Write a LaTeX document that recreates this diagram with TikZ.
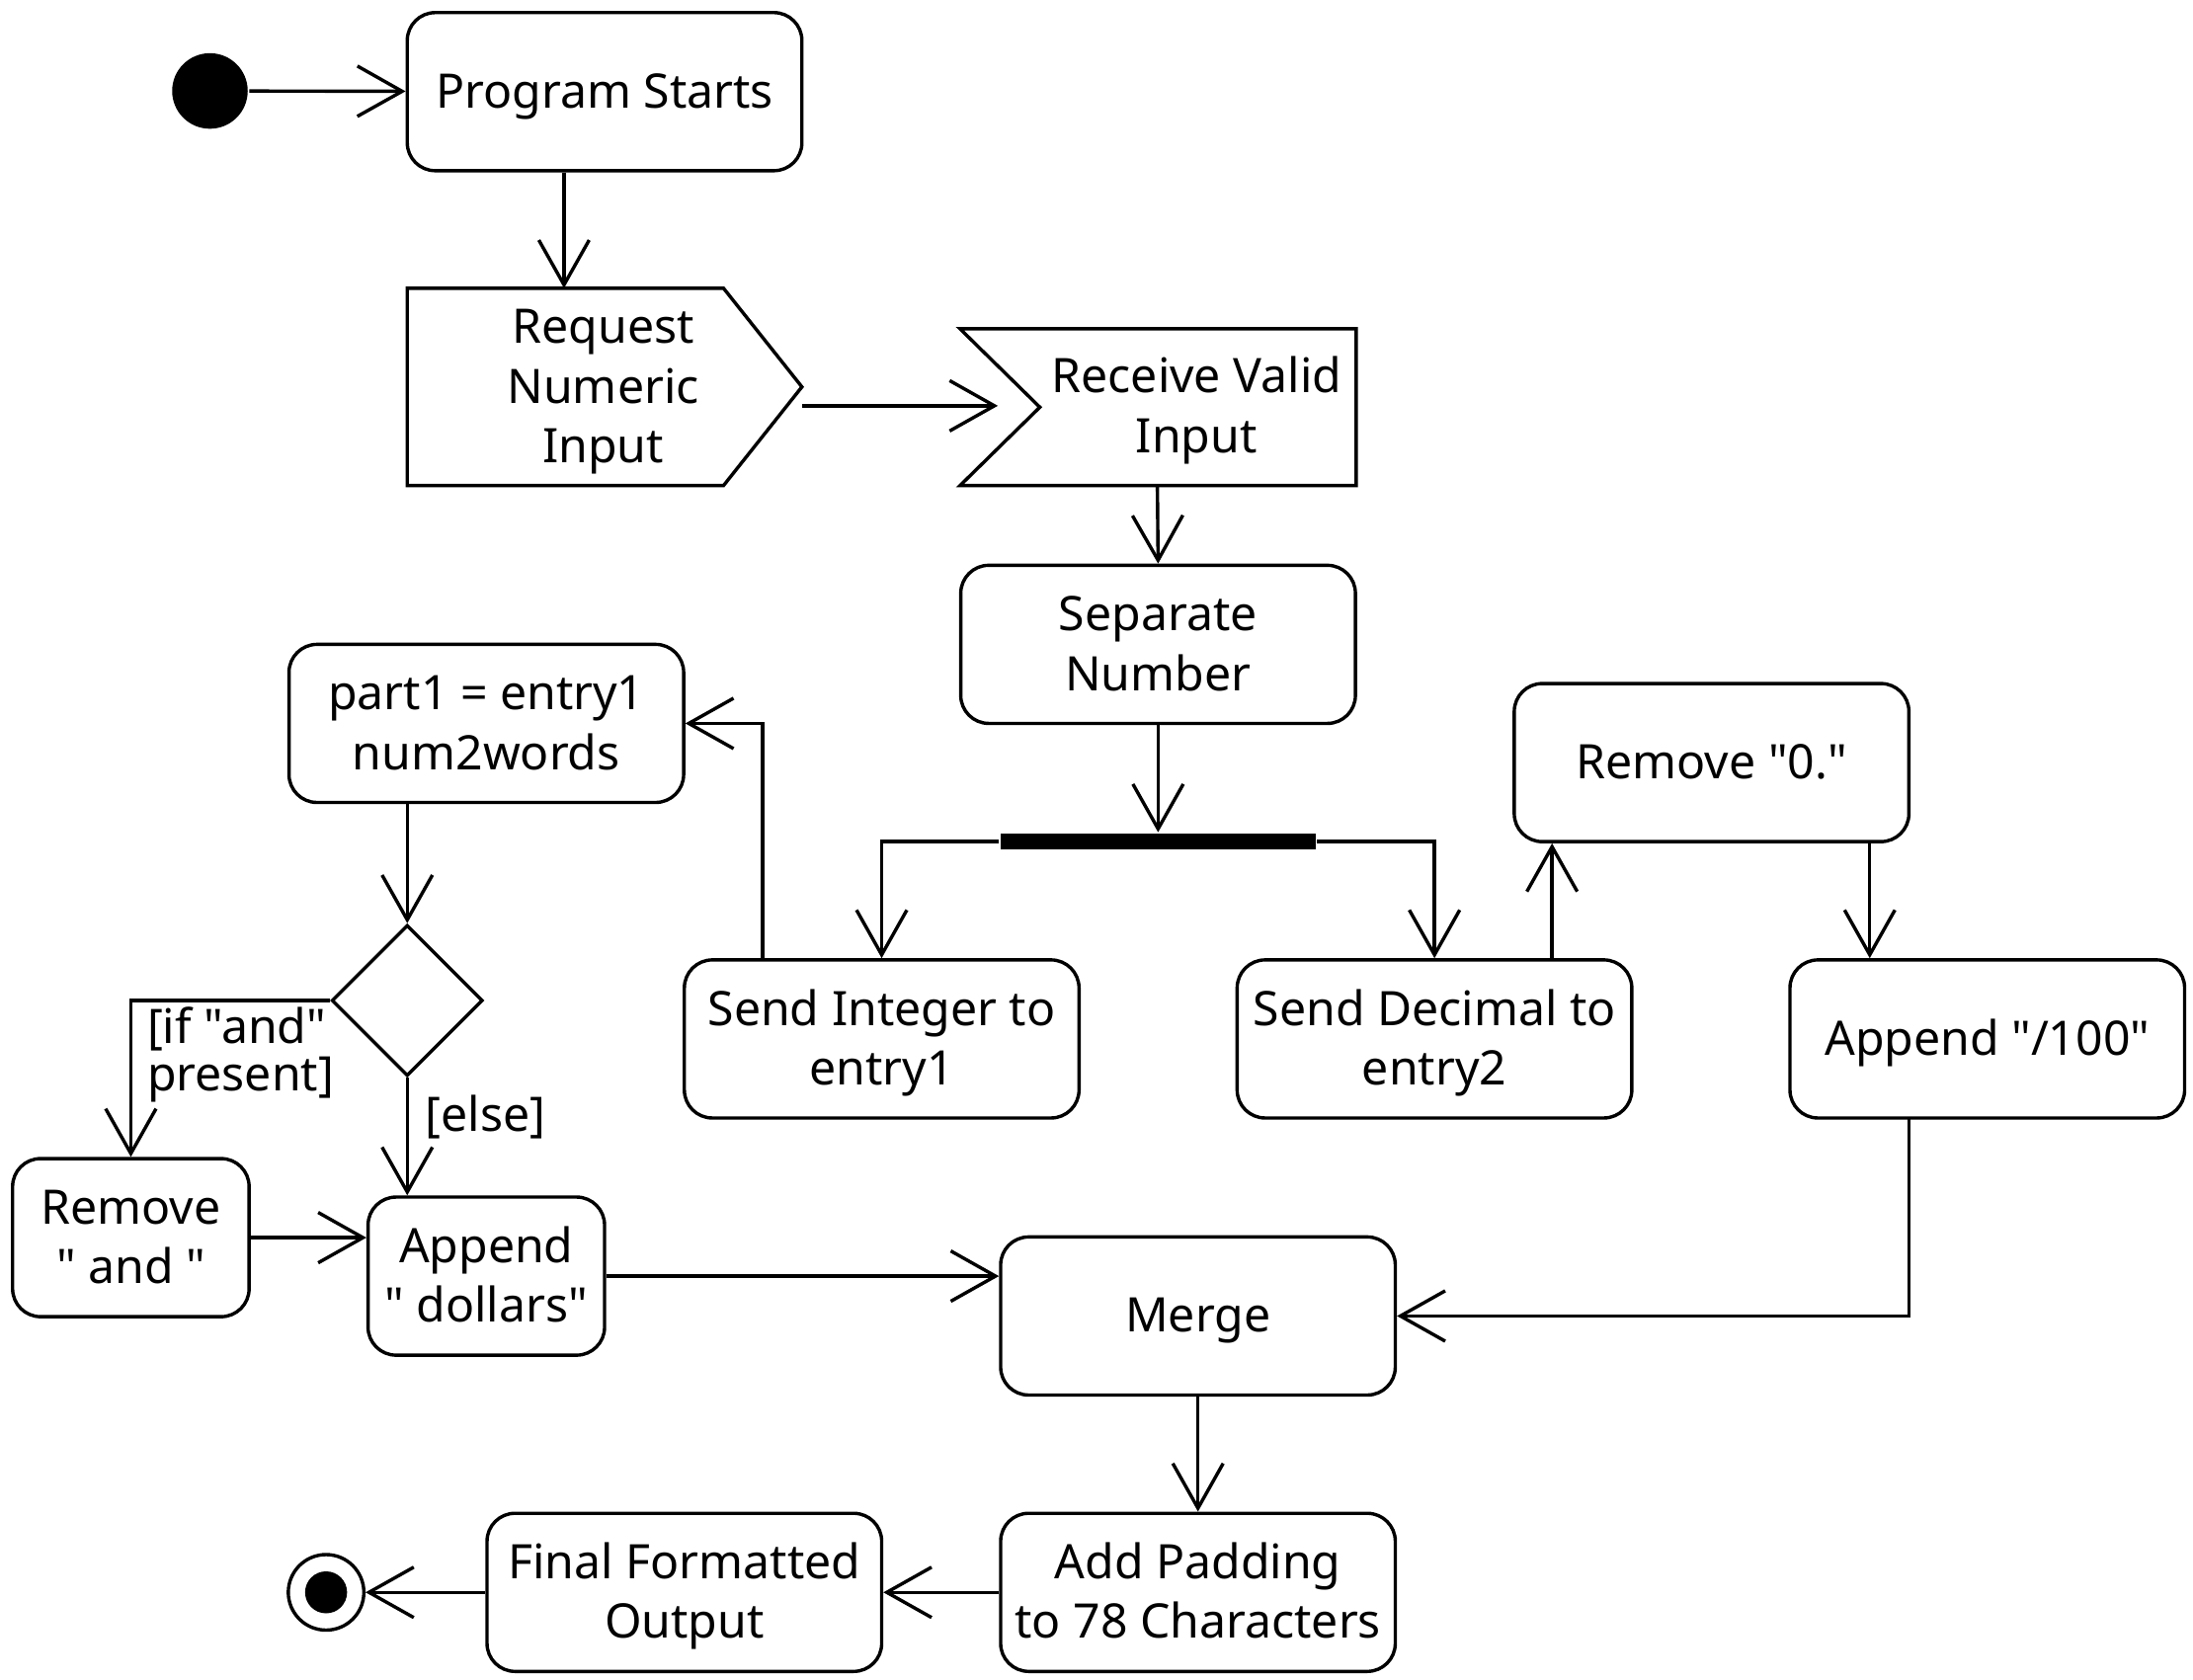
\documentclass[tikz,border=0pt]{standalone}
\usepackage{fontspec}
\setmainfont{Noto Sans}[Ligatures=TeXOff]
\usetikzlibrary{arrows.meta,shapes.geometric}
\newcommand\dfont{\fontsize{17}{21.3}\selectfont}
\newcommand\gfont{\fontsize{17}{17}\selectfont}
\newcommand\tA{\rule{0pt}{16.6pt}}
\newcommand\tD{\rule[-5pt]{0pt}{5pt}}
\begin{document}
\begin{tikzpicture}[x=0.5pt,y=-0.5pt, line width=1.2pt,
  box/.style={draw, rounded corners=10pt, minimum width=141pt, minimum height=56.5pt, inner sep=0pt, align=center, font=\dfont},
  sbox/.style={box, minimum width=84.5pt},
  txt/.style={inner sep=0pt, align=center, font=\dfont},
  flow/.style={-{Straight Barb[length=16pt,width=18pt]}}]
\useasboundingbox (0,0) rectangle (1567,1200);
% nodes
\node[circle, fill, minimum size=27pt, inner sep=0pt] (init) at (150,65) {};
\node[box] (ps) at (432,65.5) {\tA Program Starts\tD};
% send signal shape
\coordinate (rq1) at (291,206);
\coordinate (rq2) at (517,206);
\coordinate (rq3) at (573,276.5);
\coordinate (rq4) at (517,347);
\coordinate (rq5) at (291,347);
\draw (rq1) -- (rq2) -- (rq3) -- (rq4) -- (rq5) -- cycle;
\node[txt] (req) at (431,276.5) {\tA Request\\Numeric\\Input\tD};
\coordinate (reqIn) at (403,206);
\coordinate (reqOut) at (573,290);
% receive signal shape
\coordinate (rc1) at (686,235);
\coordinate (rc2) at (969,235);
\coordinate (rc3) at (969,347);
\coordinate (rc4) at (686,347);
\coordinate (rc5) at (743,291);
\draw (rc1) -- (rc2) -- (rc3) -- (rc4) -- (rc5) -- cycle;
\node[txt] (rcv) at (855,290.5) {\tA Receive Valid\\Input\tD};
\coordinate (rcvIn) at (713,290);
\coordinate (rcvOut) at (827,347);
\node[box] (sep) at (827.5,460.5) {\tA Separate\\Number\tD};
\node[fill, minimum width=112.5pt, minimum height=5.5pt, inner sep=0pt] (bar) at (827.5,601.5) {};
\node[box] (si) at (630,742.5) {\tA Send Integer to\\entry1\tD};
\node[box] (sd) at (1025,742.5) {\tA Send Decimal to\\entry2\tD};
\node[box] (rm0) at (1223,545) {\tA Remove "0."\tD};
\node[box] (ap100) at (1420,742.5) {\tA Append "/100"\tD};
\node[box] (p1) at (347.5,517) {\tA part1 = entry1\\num2words\tD};
\node[draw, diamond, minimum width=54pt, minimum height=54pt, inner sep=0pt] (dm) at (291,715) {};
\node[sbox] (rmand) at (93.5,884.5) {\tA Remove\\" and "\tD};
\node[sbox] (apd) at (347.5,912) {\tA Append\\" dollars"\tD};
\node[box] (mg) at (856,940.5) {\tA Merge\tD};
\node[box] (pad) at (856,1138) {\tA Add Padding\\to 78 Characters\tD};
\node[box] (fin) at (489,1138) {\tA Final Formatted\\Output\tD};
\node[circle, draw, minimum size=27pt, inner sep=0pt] (endn) at (233,1138) {};
\fill (endn.center) circle (7.5pt);
% labels
\node[txt, anchor=west, align=left, font=\gfont] (lif) at (104,754) {[if "and"\\present]};
\node[txt, anchor=west] (lelse) at (303,798) {[else]};
% helper coordinates
\coordinate (sdUp) at (1109,686);
\coordinate (rm0Out) at (1336,601);
\coordinate (apOut) at (1364,799);
\coordinate (siOut) at (545,686);
\coordinate (p1Out) at (291,573);
% connectors
\draw[flow] (init) -- (ps);
\draw[flow] (ps.south -| reqIn) -- (reqIn);
\draw[flow] (reqOut) -- (rcvIn);
\draw[flow] (rcvOut) -- (sep.north);
\draw[flow] (sep.south) -- (bar.north);
\draw[flow] (bar.west) -| (si.north);
\draw[flow] (bar.east) -| (sd.north);
\draw[flow] (sdUp) -- (sdUp |- rm0.south);
\draw[flow] (rm0Out) -- (rm0Out |- ap100.north);
\draw[flow] (apOut) |- (mg.east);
\draw[flow] (siOut) |- (p1.east);
\draw[flow] (p1Out) -- (dm.north);
\draw[flow] (dm.west) -| (rmand.north);
\draw[flow] (dm.south) -- (dm.south |- apd.north);
\draw[flow] (rmand.east) -- (rmand.east -| apd.west);
\draw[flow] (apd.east) -- (apd.east -| mg.west);
\draw[flow] (mg.south) -- (pad.north);
\draw[flow] (pad.west) -- (fin.east);
\draw[flow] (fin.west) -- (endn);
\end{tikzpicture}
\end{document}
